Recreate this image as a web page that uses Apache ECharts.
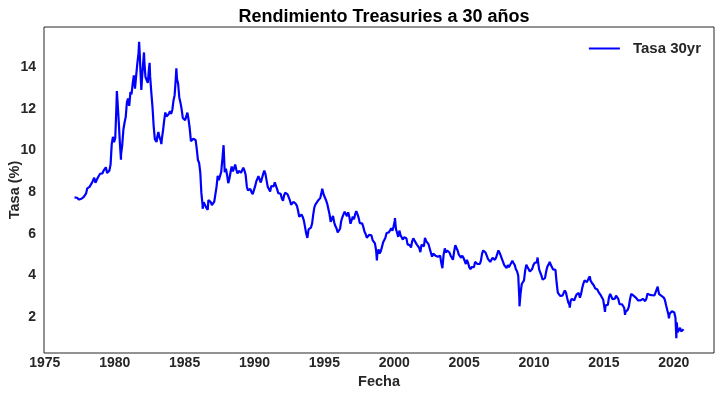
<!DOCTYPE html>
<html>
<head>
<meta charset="utf-8">
<script src="https://cdn.jsdelivr.net/npm/echarts@6/dist/echarts.min.js"></script>
<style>
html,body{margin:0;padding:0;background:#fff;}
#chart{width:722px;height:396px;}
</style>
</head>
<body>
<div id="chart"></div>
<script>
// Monthly 30-year Treasury yield (%), starting February 1977
const inicioAnio = 1977;
const inicioMes = 2;
const tasas = [
  7.75, 7.80, 7.73, 7.80, 7.64, 7.64, 7.68, 7.64, 7.77, 7.85, 7.94,          // 1977
  8.18, 8.25, 8.25, 8.32, 8.44, 8.53, 8.69, 8.45, 8.47, 8.69, 8.75, 8.88,    // 1978
  8.94, 8.90, 9.03, 9.08, 9.19, 8.92, 8.93, 9.03, 9.33, 10.30, 10.65, 10.39, // 1979
  10.60, 12.13, 12.34, 11.40, 10.36, 9.81, 10.24, 11.00, 11.34, 11.60, 12.31, 12.49, // 1980
  12.14, 12.80, 12.69, 13.20, 13.60, 12.96, 13.59, 14.17, 14.67, 14.68, 13.35, 13.45, // 1981
  14.22, 14.22, 13.53, 13.37, 13.24, 13.92, 13.55, 12.77, 12.07, 11.17, 10.54, 10.54, // 1982
  10.63, 10.88, 10.63, 10.48, 10.53, 10.93, 11.40, 11.82, 11.63, 11.58, 11.75, 11.88, // 1983
  11.75, 11.95, 12.38, 12.65, 13.43, 13.44, 13.21, 12.54, 12.29, 11.98, 11.56, 11.52, // 1984
  11.45, 11.47, 11.81, 11.47, 11.05, 10.44, 10.50, 10.56, 10.61, 10.50, 10.06, 9.54,  // 1985
  9.40, 8.93, 7.96, 7.39, 7.52, 7.57, 7.27, 7.33, 7.62, 7.70, 7.52, 7.37,    // 1986
  7.39, 7.54, 7.55, 8.25, 8.78, 8.57, 8.64, 8.97, 9.59, 9.61, 8.95, 9.12,    // 1987
  8.83, 8.43, 8.63, 8.95, 9.23, 9.00, 9.14, 9.32, 9.06, 8.89, 9.02, 9.01,    // 1988
  8.93, 9.01, 9.17, 9.03, 8.83, 8.27, 8.08, 8.12, 8.15, 8.00, 7.90, 7.90,    // 1989
  8.26, 8.50, 8.56, 8.76, 8.73, 8.46, 8.50, 8.86, 9.03, 8.86, 8.54, 8.24,    // 1990
  8.27, 8.03, 8.29, 8.21, 8.27, 8.47, 8.45, 8.14, 7.95, 7.93, 7.92, 7.70,    // 1991
  7.58, 7.85, 7.97, 7.96, 7.89, 7.84, 7.60, 7.39, 7.34, 7.53, 7.61, 7.44,    // 1992
  7.34, 7.09, 6.82, 6.85, 6.92, 6.81, 6.63, 6.32, 6.00, 5.94, 6.21, 6.25,    // 1993
  6.29, 6.49, 6.91, 7.27, 7.41, 7.40, 7.58, 7.49, 7.71, 7.94, 8.08, 7.87,    // 1994
  7.85, 7.61, 7.45, 7.36, 6.95, 6.57, 6.72, 6.86, 6.55, 6.37, 6.26, 6.06,    // 1995
  6.05, 6.24, 6.60, 6.79, 6.93, 7.06, 7.03, 6.84, 7.03, 6.81, 6.48, 6.55,    // 1996
  6.83, 6.69, 6.93, 7.09, 6.94, 6.77, 6.51, 6.58, 6.50, 6.33, 6.11, 5.99,    // 1997
  5.81, 5.89, 5.95, 5.92, 5.93, 5.70, 5.68, 5.54, 5.20, 5.01, 5.25, 5.06,    // 1998
  5.16, 5.37, 5.58, 5.55, 5.81, 6.04, 5.98, 6.07, 6.07, 6.26, 6.15, 6.35,    // 1999
  6.63, 6.23, 6.05, 5.85, 6.15, 5.93, 5.85, 5.72, 5.83, 5.80, 5.78, 5.49,    // 2000
  5.54, 5.45, 5.34, 5.65, 5.78, 5.67, 5.61, 5.48, 5.48, 5.32, 5.12, 5.48,    // 2001
  5.45, 5.40, 5.80, 5.65, 5.65, 5.50, 5.45, 5.10, 4.90, 5.05, 5.05, 4.95,    // 2002
  4.95, 4.90, 4.85, 4.95, 4.60, 4.40, 5.00, 5.30, 5.10, 5.20, 5.15, 5.10,    // 2003
  4.95, 4.90, 4.75, 5.15, 5.45, 5.40, 5.20, 5.00, 4.95, 4.85, 4.95, 4.85,    // 2004
  4.70, 4.55, 4.75, 4.60, 4.40, 4.30, 4.40, 4.45, 4.40, 4.65, 4.70, 4.55,    // 2005
  4.55, 4.55, 4.70, 5.05, 5.20, 5.15, 5.10, 4.95, 4.80, 4.80, 4.65, 4.70,    // 2006
  4.85, 4.80, 4.75, 4.85, 4.90, 5.20, 5.10, 4.95, 4.80, 4.75, 4.50, 4.50,    // 2007
  4.35, 4.50, 4.40, 4.50, 4.60, 4.70, 4.60, 4.50, 4.30, 4.20, 4.00, 2.87,    // 2008
  3.13, 3.59, 3.64, 3.76, 4.23, 4.52, 4.41, 4.37, 4.19, 4.19, 4.31, 4.49,    // 2009
  4.60, 4.62, 4.64, 4.69, 4.29, 4.13, 3.99, 3.80, 3.77, 3.87, 4.19, 4.42,    // 2010
  4.52, 4.65, 4.51, 4.50, 4.29, 4.23, 4.27, 3.65, 3.18, 3.13, 3.02, 2.98,    // 2011
  3.03, 3.11, 3.28, 3.18, 2.93, 2.70, 2.59, 2.77, 2.88, 2.90, 2.80, 2.88,    // 2012
  3.08, 3.17, 3.16, 2.93, 3.11, 3.40, 3.61, 3.76, 3.79, 3.68, 3.80, 3.89,    // 2013
  3.77, 3.66, 3.62, 3.52, 3.39, 3.42, 3.33, 3.20, 3.26, 3.04, 3.04, 2.83,    // 2014
  2.46, 2.57, 2.63, 2.59, 2.96, 3.11, 3.07, 2.86, 2.95, 2.89, 3.03, 2.97,    // 2015
  2.86, 2.62, 2.68, 2.62, 2.63, 2.45, 2.23, 2.26, 2.35, 2.50, 2.86, 3.11,    // 2016
  3.02, 3.03, 3.08, 2.94, 2.96, 2.80, 2.88, 2.80, 2.78, 2.88, 2.80, 2.77,    // 2017
  2.88, 3.13, 3.09, 3.07, 3.13, 3.05, 2.97, 3.04, 3.07, 3.34, 3.36, 3.10,    // 2018
  3.04, 3.02, 2.98, 2.94, 2.82, 2.57, 2.57, 2.12, 2.16, 2.19, 2.28, 2.30,    // 2019
  2.22, 1.97, 1.46, 1.27, 1.38, 1.49, 1.31, 1.36, 1.42                       // 2020
];
// Daily extremes visible in the picture
const fechasExtremos = ['1977-02-15','1980-02-26','1980-06-13','1981-09-30','1981-11-27','1982-02-05','1982-07-01',
  '1982-12-30','1983-05-05','1984-05-30','1986-04-17','1986-08-29','1987-10-16','1993-10-15','1994-11-07',
  '1998-10-05','2000-01-20','2003-06-13','2008-12-18','2010-04-05','2012-07-24','2013-12-31','2015-01-30',
  '2016-07-08','2018-11-08','2019-08-28','2020-03-09','2020-03-19','2020-09-15'];
const valoresExtremos = [7.76, 12.85, 9.55, 15.21, 12.90, 14.70, 14.20,
  10.40, 10.30, 13.94, 7.20, 7.15, 10.25, 5.80, 8.16,
  4.72, 6.75, 4.35, 2.52, 4.86, 2.46, 3.96, 2.25,
  2.11, 3.46, 1.94, 0.99, 1.75, 1.40];
const ticksX = [1975, 1980, 1985, 1990, 1995, 2000, 2005, 2010, 2015, 2020];
const ticksY = [2, 4, 6, 8, 10, 12, 14];

function fechaADecimal(s) {
  const [y, m, d] = s.split('-').map(Number);
  const t0 = Date.UTC(y, 0, 1), t1 = Date.UTC(y + 1, 0, 1);
  return y + (Date.UTC(y, m - 1, d) - t0) / (t1 - t0);
}
const puntos = [];
tasas.forEach((v, i) => {
  const mIdx = inicioMes - 1 + i;
  const y = inicioAnio + Math.floor(mIdx / 12);
  const m = (mIdx % 12) + 1;
  puntos.push([fechaADecimal(y + '-' + m + '-15'), v]);
});
fechasExtremos.forEach((f, i) => puntos.push([fechaADecimal(f), valoresExtremos[i]]));
puntos.sort((a, b) => a[0] - b[0]);

const FONT = "'Liberation Sans', Arial, sans-serif";
const TXT = '#262626';
const chart = echarts.init(document.getElementById('chart'), null, {renderer: 'canvas'});
chart.setOption({
  animation: false,
  backgroundColor: '#ffffff',
  title: {
    text: 'Rendimiento Treasuries a 30 años',
    left: 379, top: 3, textAlign: 'center',
    textStyle: {fontFamily: FONT, fontWeight: 'bold', fontSize: 18, color: '#000'}
  },
  legend: {
    right: 16, top: 36,
    icon: 'rect', itemWidth: 31, itemHeight: 2,
    textStyle: {fontFamily: FONT, fontWeight: 'bold', fontSize: 15, color: TXT, padding: [0, 0, 0, 8]},
    data: ['Tasa 30yr']
  },
  grid: {left: 44, right: 8, top: 27, bottom: 43, containLabel: false, outerBoundsMode: 'none',
    show: true, borderColor: TXT, borderWidth: 1},
  xAxis: {
    type: 'value', min: 1974.94, max: 2022.88,
    name: 'Fecha', nameLocation: 'middle', nameGap: 21,
    nameTextStyle: {fontFamily: FONT, fontWeight: 'bold', fontSize: 14.5, color: TXT},
    axisLine: {show: false}, axisTick: {show: false}, splitLine: {show: false},
    axisLabel: {customValues: ticksX, fontFamily: FONT, fontWeight: 'bold', fontSize: 14, color: TXT, margin: 3,
      formatter: v => String(Math.round(v))}
  },
  yAxis: {
    type: 'value', min: 0.28, max: 15.92,
    name: 'Tasa (%)', nameLocation: 'middle', nameGap: 22, nameRotate: 90, nameMoveOverlap: false,
    nameTextStyle: {fontFamily: FONT, fontWeight: 'bold', fontSize: 14.5, color: TXT},
    axisLine: {show: false}, axisTick: {show: false}, splitLine: {show: false},
    axisLabel: {customValues: ticksY, fontFamily: FONT, fontWeight: 'bold', fontSize: 14, color: TXT, margin: 8,
      formatter: v => String(Math.round(v))}
  },
  series: [{
    name: 'Tasa 30yr', type: 'line', data: puntos, showSymbol: false, symbol: 'none',
    lineStyle: {color: '#0000ff', width: 2.2}, itemStyle: {color: '#0000ff'}
  }]
});
</script>
</body>
</html>
